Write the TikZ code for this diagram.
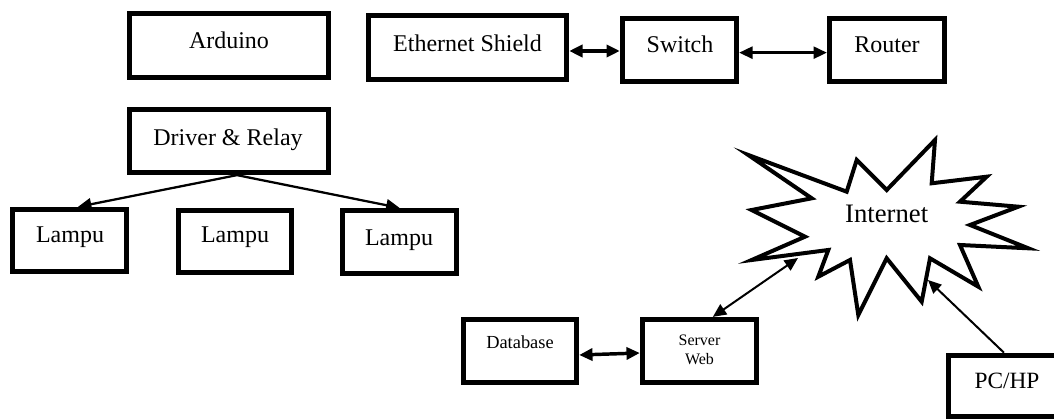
\documentclass[tikz,border=0pt]{standalone}
\usepackage{fontspec}
\setmainfont{Liberation Serif}
\usetikzlibrary{arrows.meta}
\begin{document}
\begin{tikzpicture}[x=0.75pt,y=-0.75pt,
  box/.style={draw, line width=3.6pt, inner sep=0pt},
  lbl/.style={inner sep=0pt, anchor=base, font=\fontsize{18pt}{21pt}\selectfont},
  tip/.style={Triangle[length=10pt,width=9pt]},
  arr/.style={line width=1.7pt, -{Triangle[length=10pt,width=9pt]}},
  darr/.style={line width=1.7pt, {Triangle[length=10pt,width=9pt]}-{Triangle[length=10pt,width=9pt]}},
  burst/.style={draw, line width=3pt, line join=miter},
]
\useasboundingbox (0,0) rectangle (1054,420);
\clip (0,0) rectangle (1054,420);

% boxes
\node[box, minimum width=149.6pt, minimum height=48.4pt] (ard) at (229,45.5) {};
\node[box, minimum width=148.9pt, minimum height=48.4pt] (eth) at (467.5,47.5) {};
\node[box, minimum width=85.9pt, minimum height=47.6pt] (sw) at (679.5,50) {};
\node[box, minimum width=86.6pt, minimum height=47.6pt] (rt) at (887,50) {};
\node[box, minimum width=149.6pt, minimum height=47.6pt] (drv) at (229,141) {};
\node[box, minimum width=85.9pt, minimum height=46.9pt] (l1) at (69.5,240.5) {};
\node[box, minimum width=85.1pt, minimum height=46.9pt] (l2) at (235,241.5) {};
\node[box, minimum width=85.9pt, minimum height=47.6pt] (l3) at (399.5,242) {};
\node[box, minimum width=85.1pt, minimum height=47.6pt] (db) at (520,351) {};
\node[box, minimum width=85.9pt, minimum height=47.6pt] (srv) at (699.5,351) {};
\node[box, minimum width=88.1pt, minimum height=46.3pt] (pc) at (1007,386) {};

% texts
\node[lbl] (tard) at (229,49) {Arduino};
\node[lbl] (teth) at (467.5,52) {Ethernet Shield};
\node[lbl] (tsw) at (680,53) {Switch};
\node[lbl] (trt) at (887,53) {Router};
\node[lbl] (tdrv) at (228,145.5) {Driver \& Relay};
\node[lbl] (tl1) at (70,243) {Lampu};
\node[lbl] (tl2) at (235,243) {Lampu};
\node[lbl] (tl3) at (399,246) {Lampu};
\node[lbl, font=\fontsize{13.8pt}{16pt}\selectfont] (tdb) at (520,349) {Database};
\node[lbl, font=\fontsize{12pt}{13.5pt}\selectfont] (tsrv1) at (699.5,346) {Server};
\node[lbl, font=\fontsize{12pt}{13.5pt}\selectfont] (tsrv2) at (699.5,365) {Web};
\node[lbl, font=\fontsize{17.5pt}{20pt}\selectfont] (tpc) at (1007,389) {PC/HP};

% starburst
\draw[burst] (748.3,155) -- (846.7,191.7) -- (856.7,160) -- (886.7,190) -- (935,140)
  -- (931.7,183.3) -- (986.7,176.7) -- (960,201.7) -- (1018.3,206.7) -- (970,225)
  -- (1028.3,248.3) -- (960,245) -- (978.3,286.7) -- (930,258.3) -- (921.7,301.7)
  -- (886.7,258.3) -- (858.3,315) -- (850,260) -- (818.3,276.7) -- (828.3,250)
  -- (751.7,260) -- (805,236.7) -- (751.7,210) -- (811.7,198.3) -- cycle;
\node[lbl, font=\fontsize{20pt}{23pt}\selectfont] (tnet) at (886.7,222.7) {Internet};
\coordinate (netsw) at (798,258);
\coordinate (netpc) at (928,280);

% connectors
\draw[darr, line width=2.6pt] ([yshift=-0.75pt]eth.east |- sw.west) -- ([yshift=-0.75pt]sw.west);
\draw[darr, line width=1.8pt] ([yshift=-2pt]sw.east) -- ([yshift=-2pt]rt.west);
\draw[arr] ([xshift=6pt]drv.south) -- ([xshift=6.4pt]l1.north);
\draw[arr] ([xshift=6pt]drv.south) -- (l3.north);
\draw[darr, line width=2.6pt] ([yshift=-3pt]db.east) -- ([yshift=-1.5pt]srv.west);
\draw[darr, line width=1.5pt] ([xshift=10pt]srv.north) -- (netsw);
\draw[arr, line width=1.5pt] ([xshift=-2.25pt]pc.north) -- (netpc);
\end{tikzpicture}
\end{document}
